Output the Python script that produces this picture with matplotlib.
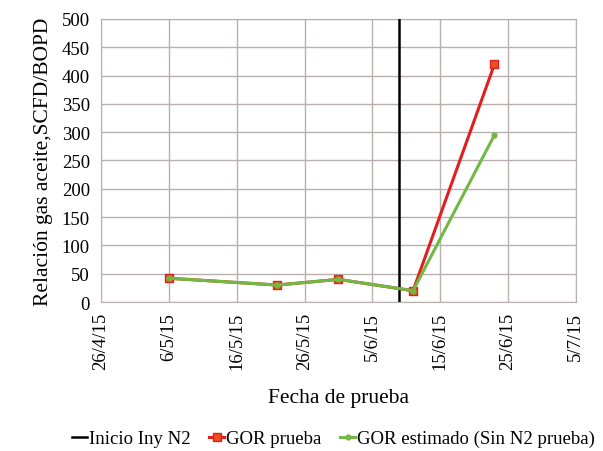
import matplotlib
matplotlib.use("Agg")
import matplotlib.pyplot as plt
import matplotlib.dates as mdates
import numpy as np
from datetime import date

plt.rcParams["font.family"] = ["Liberation Serif", "DejaVu Serif"]

fechas = [date(2015, 5, 6), date(2015, 5, 22), date(2015, 5, 31),
          date(2015, 6, 11), date(2015, 6, 23)]
gor_prueba = [42, 30, 40, 20, 420]
gor_estimado = [42, 30, 40, 20, 295]
fecha_inicio_n2 = date(2015, 6, 9)
ticks_x = [date(2015, 4, 26), date(2015, 5, 6), date(2015, 5, 16),
           date(2015, 5, 26), date(2015, 6, 5), date(2015, 6, 15),
           date(2015, 6, 25), date(2015, 7, 5)]
ticks_y = np.arange(0, 501, 50)

fig = plt.figure(figsize=(6.03, 4.52), dpi=100)
ax = fig.add_axes([0.1675, 0.3296, 0.7875, 0.6262])

ax.plot([fecha_inicio_n2, fecha_inicio_n2], [0, 500], color="black",
        linewidth=1.8, label="Inicio Iny N2", zorder=3)
ax.plot(fechas, gor_prueba, color="#e02020", linewidth=2.2, marker="s",
        markersize=6, markerfacecolor="#e8501e", markeredgecolor="#e02020",
        label="GOR prueba", zorder=4)
ax.plot(fechas, gor_estimado, color="#72b843", linewidth=2.2, marker="o",
        markersize=3.5, label="GOR estimado (Sin N2 prueba)", zorder=5)

ax.set_xlim(date(2015, 4, 26), date(2015, 7, 5))
ax.set_ylim(0, 500)
ax.set_xticks(ticks_x)
ax.xaxis.set_major_formatter(
    matplotlib.ticker.FuncFormatter(
        lambda v, p: f"{mdates.num2date(v).day}/{mdates.num2date(v).month}/15"))
ax.set_yticks(ticks_y)
ax.tick_params(axis="x", labelrotation=90, labelsize=13.5, length=0, pad=7)
ax.tick_params(axis="y", labelsize=13.5, length=0, pad=8)
ax.grid(True, color="#b8b0ae", linewidth=1.0)
for s in ax.spines.values():
    s.set_color("#b8b0ae")

ax.set_ylabel("Relación gas aceite,SCFD/BOPD", fontsize=15.5, labelpad=6)
ax.set_xlabel("Fecha de prueba", fontsize=15.5, labelpad=14)

ax.legend(loc="upper center", bbox_to_anchor=(0.49, -0.425), ncol=3,
          frameon=False, fontsize=13.5, handlelength=0.8, handletextpad=0.1,
          columnspacing=1.0, borderaxespad=0)

fig.savefig("out.png", dpi=100)
